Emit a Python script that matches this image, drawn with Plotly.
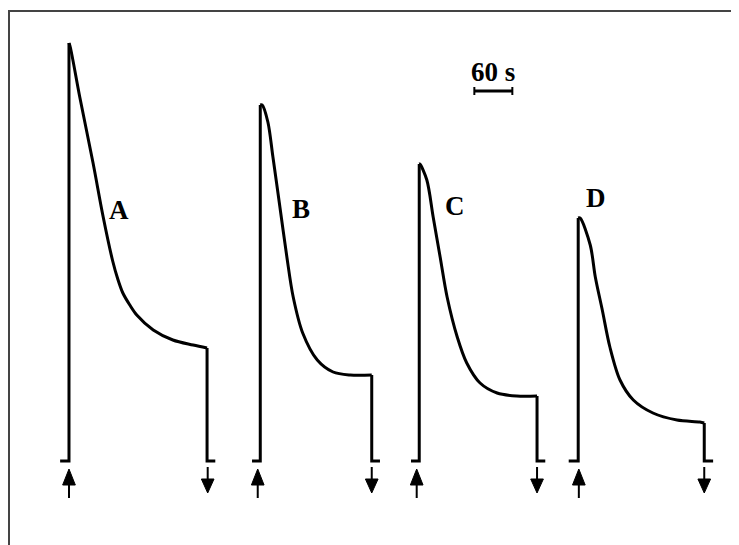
import plotly.graph_objects as go

# Time (s) and response (arbitrary units)
# Each record: baseline lead-in, rise, decay, plateau, drop, tail
A_t = [-14, 0, 0, 2, 17, 38, 54, 69, 77, 85, 96, 107, 133, 164, 196, 218, 218, 231]
A_y = [0, 0, 418, 414, 364, 298, 244, 200, 182, 168, 156, 146, 131, 121, 116, 113, 0, 0]

B_t = [289, 302, 302, 305, 314, 322, 333, 344, 354, 369, 392, 417, 444, 478, 478, 491]
B_y = [0, 0, 356, 356, 339, 304, 254, 204, 164, 128, 101, 89, 86, 86, 0, 0]

C_t = [540, 553, 553, 554, 565, 575, 586, 597, 613, 628, 649, 676, 707, 739, 739, 752]
C_y = [0, 0, 297, 297, 281, 244, 204, 164, 124, 98, 78, 68, 65, 65, 0, 0]

D_t = [789, 804, 804, 807, 823, 831, 842, 854, 870, 891, 922, 960, 996, 1003, 1003, 1017]
D_y = [0, 0, 243, 243, 216, 184, 151, 114, 81, 61, 48, 41, 39, 38, 0, 0]

labels = ["A", "B", "C", "D"]
label_t = [79, 366, 609, 832]
label_y = [251, 252, 255, 263]

on_arrows = [0, 298, 549, 805]      # stimulus on (up arrows)
off_arrows = [219, 478, 739, 1003]  # stimulus off (down arrows)

scale_start = 640
scale_len = 60
scale_y = 370

fig = go.Figure()
line = dict(color="black", width=3)

for t, y in [(A_t, A_y), (B_t, B_y), (C_t, C_y), (D_t, D_y)]:
    fig.add_trace(go.Scatter(x=t[:3], y=y[:3], mode="lines", line=line, hoverinfo="skip"))
    fig.add_trace(go.Scatter(x=t[-3:], y=y[-3:], mode="lines", line=line, hoverinfo="skip"))
    fig.add_trace(go.Scatter(x=t[2:-2], y=y[2:-2], mode="lines",
                             line=dict(color="black", width=3, shape="spline", smoothing=0.9),
                             hoverinfo="skip"))

hw = 10
for x in on_arrows:
    fig.add_trace(go.Scatter(x=[x, x], y=[-24, -37], mode="lines",
                             line=dict(color="black", width=2), hoverinfo="skip"))
    fig.add_trace(go.Scatter(x=[x - hw, x + hw, x, x - hw], y=[-24, -24, -8, -24],
                             mode="lines", fill="toself", fillcolor="black",
                             line=dict(color="black", width=1), hoverinfo="skip"))
for x in off_arrows:
    fig.add_trace(go.Scatter(x=[x, x], y=[-6, -19], mode="lines",
                             line=dict(color="black", width=2), hoverinfo="skip"))
    fig.add_trace(go.Scatter(x=[x - hw, x + hw, x, x - hw], y=[-18, -18, -32, -18],
                             mode="lines", fill="toself", fillcolor="black",
                             line=dict(color="black", width=1), hoverinfo="skip"))

# scale bar
fig.add_trace(go.Scatter(x=[scale_start, scale_start + scale_len], y=[scale_y, scale_y],
                         mode="lines", line=dict(color="black", width=3), hoverinfo="skip"))
for x in [scale_start, scale_start + scale_len]:
    fig.add_trace(go.Scatter(x=[x, x], y=[scale_y - 4, scale_y + 4], mode="lines",
                             line=dict(color="black", width=2), hoverinfo="skip"))

font = dict(family="Liberation Serif", size=27, color="black")
for lab, x, y in zip(labels, label_t, label_y):
    fig.add_annotation(x=x, y=y, text="<b>%s</b>" % lab, showarrow=False, font=font)
fig.add_annotation(x=scale_start + scale_len / 2, y=scale_y + 19, text="<b>60 s</b>",
                   showarrow=False, font=font)

# frame (page body offsets the figure by 8 px)
W, H = 739, 545
fig.add_shape(type="rect", xref="paper", yref="paper",
              x0=1 / W, x1=726 / W, y0=1 - 560 / H, y1=1 - 3 / H,
              line=dict(color="#444444", width=2))

fig.update_layout(
    width=W, height=H, margin=dict(l=0, r=0, t=0, b=0),
    paper_bgcolor="white", plot_bgcolor="white", showlegend=False,
    xaxis=dict(range=[-96.3, 1070.5], visible=False, fixedrange=True),
    yaxis=dict(range=[-92, 453], visible=False, fixedrange=True),
)

fig.write_html("out.html")
